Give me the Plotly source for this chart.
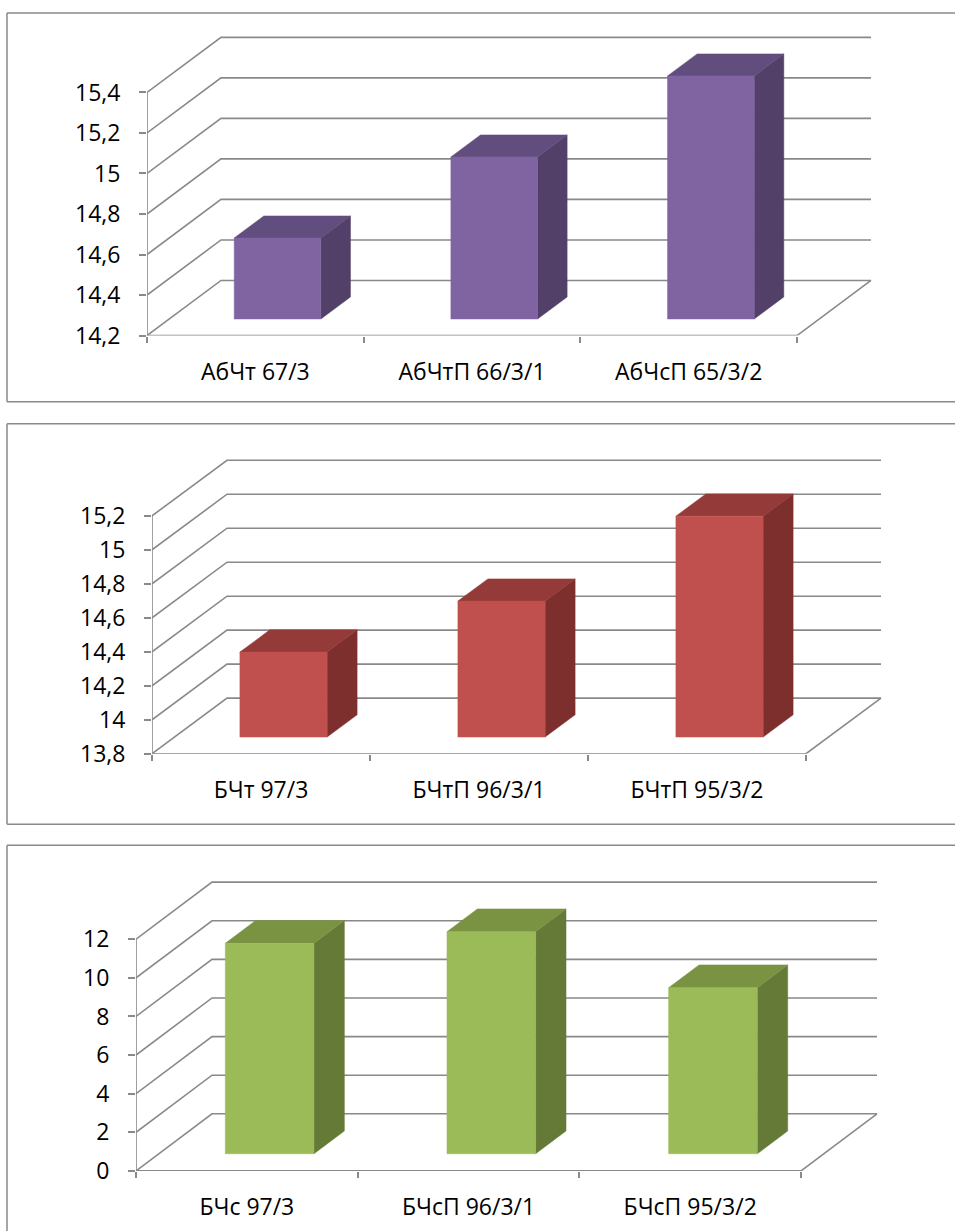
import plotly.graph_objects as go

W, H = 955, 1248
SY = H / 1231.0      # vertical pixel scale of the layout grid below

# ---- data -------------------------------------------------------------
cats_1 = ["АбЧт 67/3", "АбЧтП 66/3/1", "АбЧсП 65/3/2"]
vals_1 = [14.6, 15.0, 15.4]
ticks_1 = [14.2, 14.4, 14.6, 14.8, 15.0, 15.2, 15.4]
ticklabels_1 = ["14,2", "14,4", "14,6", "14,8", "15", "15,2", "15,4"]

cats_2 = ["БЧт 97/3", "БЧтП 96/3/1", "БЧтП 95/3/2"]
vals_2 = [14.3, 14.6, 15.1]
ticks_2 = [13.8, 14.0, 14.2, 14.4, 14.6, 14.8, 15.0, 15.2]
ticklabels_2 = ["13,8", "14", "14,2", "14,4", "14,6", "14,8", "15", "15,2"]

cats_3 = ["БЧс 97/3", "БЧсП 96/3/1", "БЧсП 95/3/2"]
vals_3 = [10.9, 11.5, 8.6]
ticks_3 = [0, 2, 4, 6, 8, 10, 12]
ticklabels_3 = ["0", "2", "4", "6", "8", "10", "12"]

# ---- styling / geometry (pixels) --------------------------------------
GRID = "#898989"
FONT = "Open Sans"
FSIZE = 23

panels = [
    dict(cats=cats_1, vals=vals_1, ticks=ticks_1, labels=ticklabels_1,
         axis=147, right=797, lo_px=335, hi_px=92.3, dx=74, dy=-55,
         box_top=13, box_bottom=401,
         colors=("#8064A2", "#624E7E", "#524068")),
    dict(cats=cats_2, vals=vals_2, ticks=ticks_2, labels=ticklabels_2,
         axis=152, right=806, lo_px=752.5, hi_px=515, dx=75, dy=-55.5,
         box_top=423, box_bottom=823,
         colors=("#C0504D", "#943B39", "#7D2F2D")),
    dict(cats=cats_3, vals=vals_3, ticks=ticks_3, labels=ticklabels_3,
         axis=136, right=801, lo_px=1169, hi_px=937.7, dx=76, dy=-57,
         box_top=844, box_bottom=None,
         colors=("#9BBB59", "#7A9343", "#657A37")),
]
for p in panels:
    for k in ("lo_px", "hi_px", "dy", "box_top"):
        p[k] = p[k] * SY
    if p["box_bottom"] is not None:
        p["box_bottom"] = p["box_bottom"] * SY

BAR_W = 0.4          # bar width as a share of a category slot
Z1, Z2 = 0.3, 0.7    # bar depth span inside the floor

fig = go.Figure()
shapes = []

for n, p in enumerate(panels, start=1):
    xa = "x" if n == 1 else f"x{n}"
    ya = "y" if n == 1 else f"y{n}"
    ticks = p["ticks"]
    ymin, ymax = ticks[0], ticks[-1]
    cw = (p["right"] - p["axis"]) / 3.0
    ppu = (p["lo_px"] - p["hi_px"]) / (ymax - ymin)
    ddx = p["dx"] / cw
    ddy = -p["dy"] / ppu

    def proj(x, y, z):
        return x + z * ddx, y + z * ddy

    # walls: back gridlines + side-wall diagonals
    gx, gy = [], []
    for t in ticks:
        for pt in [(0, t, 0), (0, t, 1), (3, t, 1)]:
            a, b = proj(*pt)
            gx.append(a); gy.append(b)
        gx.append(None); gy.append(None)
    # floor right edge
    for pt in [(3, ymin, 0), (3, ymin, 1)]:
        a, b = proj(*pt)
        gx.append(a); gy.append(b)
    gx.append(None); gy.append(None)
    # front axis lines
    gx += [0, 0, 3]
    gy += [ymax, ymin, ymin]
    fig.add_trace(go.Scatter(x=gx, y=gy, mode="lines", xaxis=xa, yaxis=ya,
                             line=dict(color=GRID, width=1.6),
                             cliponaxis=False, hoverinfo="skip", showlegend=False))

    front_c, top_c, side_c = p["colors"]
    for i, v in enumerate(p["vals"]):
        c = i + 0.5
        xl, xr = c - BAR_W / 2, c + BAR_W / 2
        faces = [
            (side_c, [(xr, ymin, Z1), (xr, ymin, Z2), (xr, v, Z2), (xr, v, Z1)]),
            (top_c, [(xl, v, Z1), (xr, v, Z1), (xr, v, Z2), (xl, v, Z2)]),
            (front_c, [(xl, ymin, Z1), (xr, ymin, Z1), (xr, v, Z1), (xl, v, Z1)]),
        ]
        for col, pts in faces:
            xs, ys = zip(*[proj(*q) for q in pts])
            xs = list(xs) + [xs[0]]
            ys = list(ys) + [ys[0]]
            fig.add_trace(go.Scatter(x=xs, y=ys, mode="lines", fill="toself",
                                     fillcolor=col, line=dict(color=col, width=0.5),
                                     xaxis=xa, yaxis=ya, cliponaxis=False,
                                     hoverinfo="skip", showlegend=False))

    # plot-area placement
    right_px = p["axis"] + 3 * cw + p["dx"] + 6
    top_px = p["hi_px"] + p["dy"] - 6
    xr_range = (right_px - p["axis"]) / cw
    yr_range = ymin + (p["lo_px"] - top_px) / ppu

    fig.layout[f"xaxis{'' if n == 1 else n}"] = dict(
        domain=[p["axis"] / W, right_px / W], range=[0, xr_range],
        anchor=ya, tickmode="array", tickvals=[0.5, 1.5, 2.5], ticktext=p["cats"],
        ticks="", showgrid=False, zeroline=False, showline=False,
        ticklabelstandoff=20,
        minor=dict(tickmode="array", tickvals=[0, 1, 2, 3], ticks="outside",
                   ticklen=6, tickwidth=1.5, tickcolor=GRID, showgrid=False),
        tickfont=dict(family=FONT, size=FSIZE, color="black"), fixedrange=True,
    )
    fig.layout[f"yaxis{'' if n == 1 else n}"] = dict(
        domain=[1 - p["lo_px"] / H, 1 - top_px / H], range=[ymin, yr_range],
        anchor=xa, tickmode="array", tickvals=ticks, ticktext=p["labels"],
        ticks="outside", ticklen=7, tickwidth=1.5, tickcolor=GRID,
        showgrid=False, zeroline=False, showline=False, ticklabelstandoff=14,
        tickfont=dict(family=FONT, size=FSIZE, color="black"), fixedrange=True,
    )

    # chart frame
    left = 7 / W
    top = 1 - p["box_top"] / H
    shapes.append(dict(type="line", xref="paper", yref="paper",
                       x0=left, x1=1, y0=top, y1=top,
                       line=dict(color=GRID, width=1.5)))
    bottom = 0 if p["box_bottom"] is None else 1 - p["box_bottom"] / H
    shapes.append(dict(type="line", xref="paper", yref="paper",
                       x0=left, x1=left, y0=bottom, y1=top,
                       line=dict(color=GRID, width=1.5)))
    if p["box_bottom"] is not None:
        shapes.append(dict(type="line", xref="paper", yref="paper",
                           x0=left, x1=1, y0=bottom, y1=bottom,
                           line=dict(color=GRID, width=1.5)))

fig.update_layout(width=W, height=H, margin=dict(l=0, r=0, t=0, b=0),
                  paper_bgcolor="white", plot_bgcolor="white",
                  showlegend=False, shapes=shapes,
                  font=dict(family=FONT, color="black"))

fig.write_html("out.html")
